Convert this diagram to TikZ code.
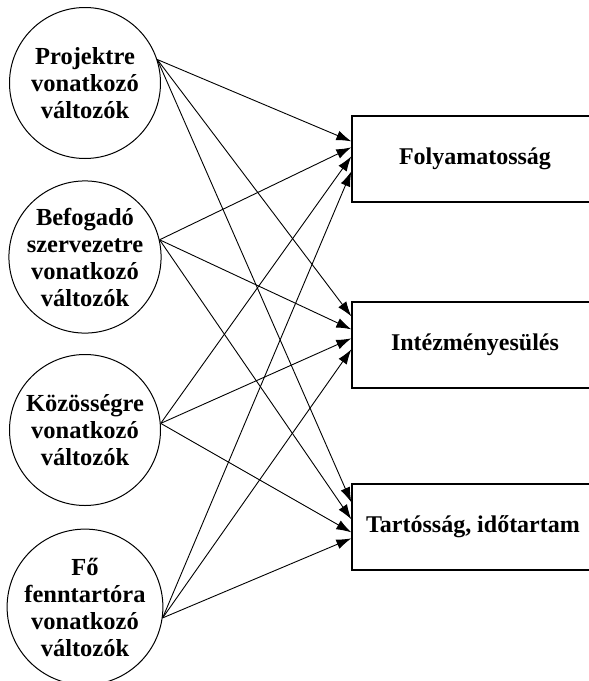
\documentclass[tikz,border=0pt]{standalone}
\usepackage{fontspec}
\setmainfont{Liberation Serif}
\usetikzlibrary{arrows.meta,calc}
\begin{document}
\begin{tikzpicture}[x=1pt,y=-1pt,
  circ/.style={circle,draw,line width=1pt,minimum size=151pt,inner sep=0pt,align=center,
    font=\bfseries\fontsize{24.5}{27}\selectfont},
  box/.style={rectangle,draw,line width=1.3pt,minimum width=300pt,minimum height=86pt,
    inner sep=0pt},
  boxtext/.style={inner sep=0pt,font=\bfseries\fontsize{24}{27}\selectfont},
  arr/.style={-{Latex[length=15pt,width=10pt]},line width=0.9pt}]
\clip (0,0) rectangle (589,681);
\node[circ] (c1) at (85,83) {Projektre\\vonatkozó\\változók};
\node[circ] (c2) at (85,257) {Befogadó\\szervezetre\\vonatkozó\\változók};
\node[circ] (c3) at (85,430) {Közösségre\\vonatkozó\\változók};
\node[circ] (c4) at (85,607) {Fő\\fenntartóra\\vonatkozó\\változók};
\node[box] (b1) at (502,159) {};
\node[box] (b2) at (502,345) {};
\node[box] (b3) at (502,527) {};
\node[boxtext] (t1) at (475,159) {Folyamatosság};
\node[boxtext] (t2) at (475,345) {Intézményesülés};
\node[boxtext] (t3) at (473,527) {Tartósság, időtartam};
\coordinate (s1) at (c1.18);
\coordinate (s2) at (c2.13);
\coordinate (s3) at (c3.5);
\coordinate (s4) at (c4.-8);
% box 1
\draw[arr] (s1) -- ($(b1.north west)+(0,26)$);
\draw[arr] (s2) -- ($(b1.north west)+(0,32)$);
\draw[arr] (s3) -- ($(b1.north west)+(0,41)$);
\draw[arr] (s4) -- ($(b1.north west)+(0,56)$);
% box 2
\draw[arr] (s1) -- ($(b2.north west)+(0,15)$);
\draw[arr] (s2) -- ($(b2.north west)+(0,28)$);
\draw[arr] (s3) -- ($(b2.north west)+(0,37)$);
\draw[arr] (s4) -- ($(b2.north west)+(0,48)$);
% box 3
\draw[arr] (s1) -- ($(b3.north west)+(0,19)$);
\draw[arr] (s2) -- ($(b3.north west)+(0,36)$);
\draw[arr] (s3) -- ($(b3.north west)+(0,49)$);
\draw[arr] (s4) -- ($(b3.north west)+(0,55)$);
\end{tikzpicture}
\end{document}
